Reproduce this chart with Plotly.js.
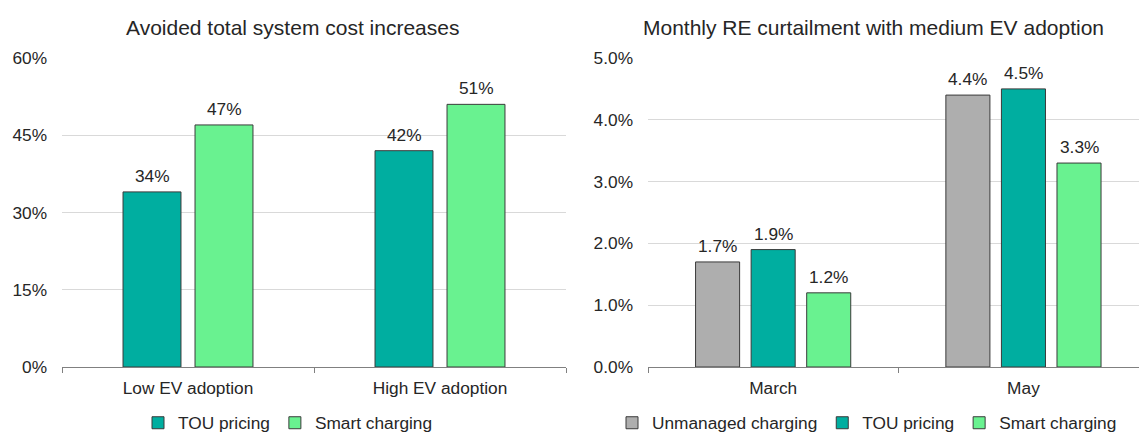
<!DOCTYPE html>
<html><head><meta charset="utf-8">
<script src="https://cdn.plot.ly/plotly-3.0.1.min.js"></script>
<style>html,body{margin:0;padding:0;background:#fff}</style>
</head><body><div id="chart" style="width:1139px;height:433px"></div>
<script>
// ---- data ----
const leftTitle = 'Avoided total system cost increases';
const rightTitle = 'Monthly RE curtailment with medium EV adoption';
const leftCategories = ['Low EV adoption', 'High EV adoption'];
const leftTOU = [0.34, 0.42];
const leftSmart = [0.47, 0.51];
const leftTicks = [0, 0.15, 0.30, 0.45, 0.60];
const rightCategories = ['March', 'May'];
const rightUnmanaged = [0.017, 0.044];
const rightTOU = [0.019, 0.045];
const rightSmart = [0.012, 0.033];
const rightTicks = [0, 0.01, 0.02, 0.03, 0.04, 0.05];

// ---- styles ----
const W = 1139, H = 433;
const FONT = 'Liberation Sans, Arial, sans-serif';
const TXT = '#262626';
const C_TOU = '#00AEA0', C_SMART = '#69F290', C_UNM = '#AEAEAE';
const OUT = {color: '#3a3a3a', width: 1};
const LW = 0.23, LSLOT = 0.2857;        // left bar width / slot (category units)
const RW = 0.176, RSLOT = 0.222;        // right bar width / slot

function bar(name, cats, vals, color, xa, ya, offC, w, leg) {
  return {type: 'bar', name: name, x: cats, y: vals, xaxis: xa, yaxis: ya,
    width: w, offset: offC - w / 2, legend: leg,
    marker: {color: color, line: OUT}, hoverinfo: 'skip'};
}
const traces = [
  bar('TOU pricing', leftCategories, leftTOU, C_TOU, 'x', 'y', -LSLOT / 2, LW, 'legend'),
  bar('Smart charging', leftCategories, leftSmart, C_SMART, 'x', 'y', LSLOT / 2, LW, 'legend'),
  bar('Unmanaged charging', rightCategories, rightUnmanaged, C_UNM, 'x2', 'y2', -RSLOT, RW, 'legend2'),
  bar('TOU pricing', rightCategories, rightTOU, C_TOU, 'x2', 'y2', 0, RW, 'legend2'),
  bar('Smart charging', rightCategories, rightSmart, C_SMART, 'x2', 'y2', RSLOT, RW, 'legend2')
];

const anns = [];
function labels(vals, offC, xref, yref, fmt) {
  vals.forEach((v, i) => anns.push({x: i + offC, y: v, xref: xref, yref: yref,
    text: fmt(v), showarrow: false, yanchor: 'bottom', yshift: 4,
    font: {family: FONT, size: 17.3, color: TXT}}));
}
const pct0 = v => Math.round(v * 100) + '%';
const pct1 = v => (v * 100).toFixed(1) + '%';
labels(leftTOU, -LSLOT / 2, 'x', 'y', pct0);
labels(leftSmart, LSLOT / 2, 'x', 'y', pct0);
labels(rightUnmanaged, -RSLOT, 'x2', 'y2', pct1);
labels(rightTOU, 0, 'x2', 'y2', pct1);
labels(rightSmart, RSLOT, 'x2', 'y2', pct1);
anns.push({x: 292 / W, y: 1 - 27 / H, xref: 'paper', yref: 'paper', text: leftTitle,
  showarrow: false, xanchor: 'center', yanchor: 'middle', font: {family: FONT, size: 21, color: TXT}});
anns.push({x: 873.6 / W, y: 1 - 27 / H, xref: 'paper', yref: 'paper', text: rightTitle,
  showarrow: false, xanchor: 'center', yanchor: 'middle', font: {family: FONT, size: 21, color: TXT}});

const ydom = [66 / H, 375 / H];
const xBase = {type: 'category', showgrid: false, zeroline: false, showline: true,
  linecolor: '#808080', linewidth: 1, ticks: 'outside', tickson: 'boundaries', ticklen: 5,
  tickcolor: '#808080', ticklabelstandoff: 5, tickfont: {family: FONT, size: 17.3, color: TXT},
  automargin: false, fixedrange: true};
const yBase = {showgrid: true, gridcolor: '#D9D9D9', gridwidth: 1, zeroline: false, showline: false,
  ticks: '', ticklabelstandoff: 14, tickfont: {family: FONT, size: 17.3, color: TXT},
  automargin: false, fixedrange: true, domain: ydom};

const layout = {
  width: W, height: H, margin: {l: 0, r: 0, t: 0, b: 0, autoexpand: false},
  paper_bgcolor: '#fff', plot_bgcolor: '#fff', barmode: 'overlay', showlegend: true,
  font: {family: FONT, color: TXT},
  xaxis: Object.assign({}, xBase, {domain: [62 / W, 566 / W], anchor: 'y', range: [-0.5, 1.5]}),
  yaxis: Object.assign({}, yBase, {anchor: 'x', range: [0, 0.6], tickvals: leftTicks, tickformat: '.0%'}),
  xaxis2: Object.assign({}, xBase, {domain: [648 / W, 1], anchor: 'y2', range: [-0.5, -0.5 + 491 / 250.3]}),
  yaxis2: Object.assign({}, yBase, {anchor: 'x2', range: [0, 0.05], tickvals: rightTicks, tickformat: '.1%'}),
  legend: {orientation: 'h', x: 138 / W, xanchor: 'left', y: 10 / H, yanchor: 'middle',
    font: {family: FONT, size: 17.3, color: TXT}, bgcolor: 'rgba(0,0,0,0)', traceorder: 'normal'},
  legend2: {orientation: 'h', x: 612 / W, xanchor: 'left', y: 10 / H, yanchor: 'middle',
    font: {family: FONT, size: 17.3, color: TXT}, bgcolor: 'rgba(0,0,0,0)', traceorder: 'normal'},
  annotations: anns
};
Plotly.newPlot('chart', traces, layout, {staticPlot: true, displayModeBar: false});
</script></body></html>
